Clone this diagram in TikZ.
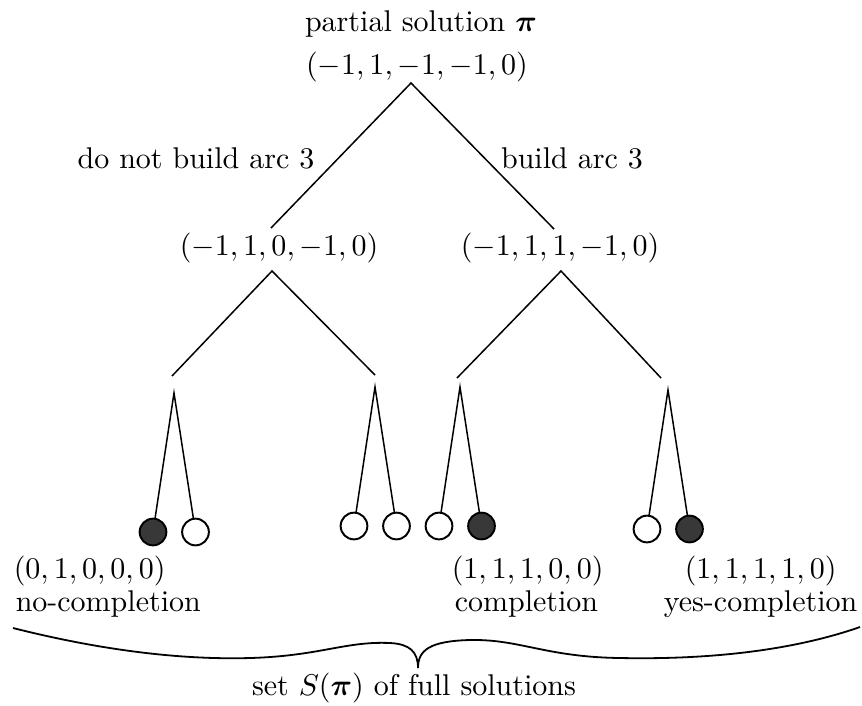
\documentclass[tikz,border=0pt]{standalone}
\usepackage{amsmath}
\begin{document}
\begin{tikzpicture}[x=0.3333pt,y=-0.3333pt,line width=0.5pt,
  leaf/.style={circle,draw,line width=0.65pt,inner sep=0pt,minimum size=8.9pt},
  full/.style={leaf,fill=black!78}]
\useasboundingbox (0,0) rectangle (862,705);
\node[] (top) at (421,24) {partial solution $\boldsymbol{\pi}$};
\node[] (root) at (417,67) {$(-1,1,-1,-1,0)$};
\coordinate (r) at (411,83); \coordinate (l0) at (271,228); \coordinate (r0) at (554,229);
\draw (l0) -- (r) -- (r0);
\node[] (nobuild) at (196,158) {do not build arc 3};
\node[] (build) at (572,158) {build arc 3};
\node[] (lt) at (279,248) {$(-1,1,0,-1,0)$};
\node[] (rt) at (560,248) {$(-1,1,1,-1,0)$};
\coordinate (la) at (272,271); \coordinate (ra) at (561,271);
\coordinate (ll) at (172,376); \coordinate (lr) at (375,375);
\coordinate (rl) at (457,378); \coordinate (rr) at (661,378);
\draw (ll) -- (la) -- (lr);
\draw (rl) -- (ra) -- (rr);
  \foreach \n/\x/\y/\a/\b in {a/174/393/full/leaf, b/375/387/leaf/leaf, c/460/387/leaf/full, d/668/390/leaf/full}
  {
    \coordinate (\n) at (\x,\y);
    \node[\a] (\n1) at (\x-21,\y+139) {};
    \node[\b] (\n2) at (\x+21.5,\y+139) {};
    \draw (\n1) -- (\n) -- (\n2);
  }
\node[anchor=west] (sol1) at (3,571) {$(0,1,0,0,0)$}; \node[anchor=west] (txt1) at (5,604) {no-completion};
\node[anchor=west] (sol2) at (441,571) {$(1,1,1,0,0)$}; \node[anchor=west] (txt2) at (444,604) {completion};
\node[anchor=west] (sol3) at (674,571) {$(1,1,1,1,0)$}; \node[anchor=east] (txt3) at (868,604) {yes-completion};
% brace over the full solutions
\draw[line width=0.6pt] (13,628) .. controls (100,650) and (180,660) .. (250,658) .. controls (320,656) and (345,641) .. (390,643) .. controls (410,644) and (418,652) .. (418,668);
\draw[line width=0.6pt] (418,668) .. controls (418,650) and (430,641) .. (470,640) .. controls (520,639) and (545,657) .. (620,658) .. controls (720,660) and (800,648) .. (860,627);
\node[] (set) at (414,688) {set $S(\boldsymbol{\pi})$ of full solutions};
\end{tikzpicture}
\end{document}
